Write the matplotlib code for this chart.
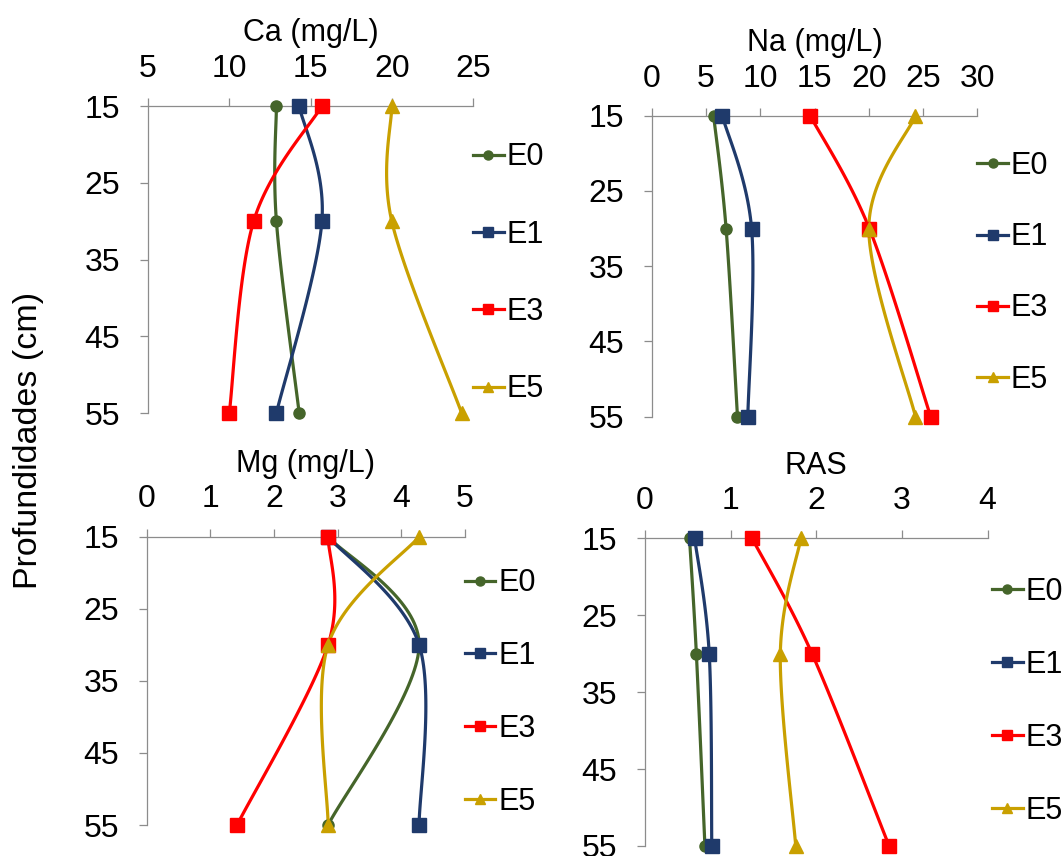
import numpy as np
import matplotlib.pyplot as plt
from matplotlib.lines import Line2D

plt.rcParams['font.family'] = ['Liberation Sans', 'DejaVu Sans']

# Depths (cm) and values
depths = [15, 30, 55]
series_names = ['E0', 'E1', 'E3', 'E5']

ca = {'E0': [12.9, 12.9, 14.3], 'E1': [14.3, 15.7, 12.9],
      'E3': [15.7, 11.5, 10.0], 'E5': [20.0, 20.0, 24.3]}
na = {'E0': [5.7, 6.85, 7.9], 'E1': [6.5, 9.2, 8.85],
      'E3': [14.6, 20.05, 25.7], 'E5': [24.3, 20.0, 24.3]}
mg = {'E0': [2.85, 4.28, 2.85], 'E1': [2.85, 4.28, 4.28],
      'E3': [2.85, 2.85, 1.42], 'E5': [4.28, 2.85, 2.85]}
ras = {'E0': [0.52, 0.60, 0.70], 'E1': [0.58, 0.75, 0.78],
       'E3': [1.25, 1.95, 2.85], 'E5': [1.82, 1.58, 1.76]}

titles = ['Ca (mg/L)', 'Na (mg/L)', 'Mg (mg/L)', 'RAS']
xlims = [(5, 25), (0, 30), (0, 5), (0, 4)]
xsteps = [5, 5, 1, 1]
ytick_vals = [15, 25, 35, 45, 55]

colors = {'E0': '#45652A', 'E1': '#1F3A6B', 'E3': '#FF0000', 'E5': '#C9A000'}
markers = {'E0': 'o', 'E1': 's', 'E3': 's', 'E5': '^'}


def smooth(x, y, n=40):
    # Excel-like smoothed line: Catmull-Rom style Bezier segments
    pts = np.column_stack([x, y]).astype(float)
    out = []
    for i in range(len(pts) - 1):
        p0 = pts[i - 1] if i > 0 else pts[i]
        p1, p2 = pts[i], pts[i + 1]
        p3 = pts[i + 2] if i + 2 < len(pts) else pts[i + 1]
        c1 = p1 + (p2 - p0) / 6
        c2 = p2 - (p3 - p1) / 6
        t = np.linspace(0, 1, n)[:, None]
        seg = (1 - t) ** 3 * p1 + 3 * (1 - t) ** 2 * t * c1 + 3 * (1 - t) * t ** 2 * c2 + t ** 3 * p2
        out.append(seg)
    return np.vstack(out)


fig = plt.figure(figsize=(10.62, 8.56), dpi=100)

# axes rectangles in figure fractions
rects = [
    [0.1394, 0.5175, 0.3060, 0.3586],
    [0.6137, 0.5132, 0.3066, 0.3516],
    [0.1381, 0.0362, 0.2997, 0.3368],
    [0.6073, 0.0117, 0.3227, 0.3595],
]
legend_pos = [(1.0, 0.455), (1.0, 0.478), (1.0, 0.46), (1.013, 0.47)]
legend_spacing = [1.55, 1.35, 1.4, 1.4]

datasets = [ca, na, mg, ras]

for k, data in enumerate(datasets):
    ax = fig.add_axes(rects[k])
    for name in series_names:
        curve = smooth(data[name], depths)
        ax.plot(curve[:, 0], curve[:, 1], color=colors[name], lw=2.3, clip_on=False)
        ax.plot(data[name], depths, linestyle='none', marker=markers[name],
                color=colors[name], markersize=9.5 if markers[name] != 'o' else 8,
                clip_on=False, zorder=3)

    ax.set_xlim(*xlims[k])
    ax.set_xticks(np.arange(xlims[k][0], xlims[k][1] + 0.001, xsteps[k]))
    ax.set_ylim(55, 15)
    ax.set_yticks(ytick_vals)

    ax.xaxis.tick_top()
    for side in ['right', 'bottom']:
        ax.spines[side].set_visible(False)
    for side in ['top', 'left']:
        ax.spines[side].set_color('#8C8C8C')
        ax.spines[side].set_linewidth(0.9)
    ax.tick_params(axis='x', direction='out', length=6, width=0.9, color='#8C8C8C',
                   labelsize=23, pad=10)
    ax.tick_params(axis='y', direction='out', length=6, width=0.9, color='#8C8C8C',
                   labelsize=23, pad=14)
    ax.set_title(titles[k], fontsize=22, pad=9)

    handles = [Line2D([0], [0], color=colors[n], lw=2.3, marker=markers[n], markersize=6.5)
               for n in series_names]
    ax.legend(handles, series_names, loc='center left', bbox_to_anchor=legend_pos[k],
              frameon=False, fontsize=22, handlelength=1.0, handletextpad=0.1,
              borderpad=0, borderaxespad=0, labelspacing=legend_spacing[k])

fig.text(0.027, 0.486, 'Profundidades (cm)', rotation=90, ha='center', va='center',
         fontsize=24.5)

plt.savefig('out.png', dpi=100)
plt.close()
